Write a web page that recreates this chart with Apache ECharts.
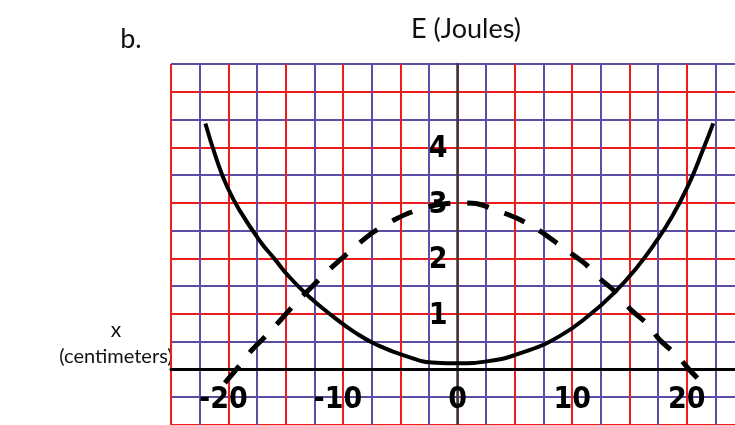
<!DOCTYPE html>
<html>
<head>
<meta charset="utf-8">
<title>E (Joules) vs x</title>
<script src="https://cdn.jsdelivr.net/npm/echarts@6/dist/echarts.min.js"></script>
<style>
  html, body { margin: 0; padding: 0; background: #fff; }
  #chart { width: 735px; height: 425px; }
</style>
</head>
<body>
<div id="chart"></div>
<script>
// solid curve (x in cm, E in J)
var solidX = [-22.0, -21.0, -20.1, -19.0, -17.2, -16.0, -14.7, -13.0, -10.9, -8.9, -7.1, -4.5, -1.9, 0.0, 2.7, 6.0, 8.9, 11.5, 13.8, 15.5, 17.1, 18.7, 20.2, 21.4, 22.3];
var solidE = [4.43, 3.77, 3.29, 2.86, 2.30, 2.00, 1.67, 1.32, 0.96, 0.66, 0.45, 0.24, 0.12, 0.11, 0.15, 0.33, 0.60, 0.98, 1.41, 1.80, 2.24, 2.75, 3.35, 3.95, 4.43];

// dashed curve
var dashX = [-20.3, -18.95, -17.9, -16.45, -15.4, -14.1, -12.8, -11.4, -10.1, -8.6, -7.3, -5.55, -3.95, -1.9, 0.0, 1.6, 3.3, 5.1, 6.85, 8.3, 9.7, 11.2, 12.5, 13.7, 15.1, 16.6, 17.6, 19.2, 20.2, 21.05];
var dashE = [-0.24, 0.09, 0.36, 0.66, 0.90, 1.20, 1.47, 1.76, 2.00, 2.27, 2.48, 2.69, 2.84, 2.96, 3.00, 2.99, 2.87, 2.73, 2.54, 2.33, 2.12, 1.89, 1.62, 1.41, 1.08, 0.81, 0.54, 0.24, 0.00, -0.18];

// tick labels written on the axes
var xTickLabels = [-20, -10, 0, 10, 20];
var yTickLabels = [1, 2, 3, 4];

function pairs(xs, ys) {
    var out = [];
    for (var i = 0; i < xs.length; i++) {
        out.push([xs[i], ys[i]]);
    }
    return out;
}

var gridColors = ['#ee1c1c', '#5a4ea6'];
var tickFont = {
    fontFamily: '"Liberation Sans Narrow", "DejaVu Sans Condensed", sans-serif',
    fontWeight: 'bold',
    fontSize: 30,
    color: '#000',
    opacity: 1,
    textBorderWidth: 0
};

// x tick labels hang under the x = 0 line, y tick labels sit left of the y axis
var xLabelData = xTickLabels.map(function(v) {
    return {
        value: [v, 0],
        label: { formatter: String(v), offset: [v < 0 ? -5 : 0, 0] }
    };
});
var yLabelData = yTickLabels.map(function(v) {
    return { value: [0, v], label: { formatter: String(v) } };
});

var chart = echarts.init(document.getElementById('chart'));

chart.setOption({
    animation: false,
    backgroundColor: '#fff',
    grid: { left: 171, right: 0, top: 64, bottom: 0, containLabel: false, outerBoundsMode: 'none' },
    xAxis: {
        type: 'value',
        min: -25,
        max: 24.2,
        interval: 2.5,
        axisLine: { onZero: true, lineStyle: { color: '#000', width: 3 } },
        axisTick: { show: false },
        axisLabel: { show: false },
        splitLine: {
            show: true,
            showMaxLine: false,
            lineStyle: { color: gridColors, width: 2 }
        }
    },
    yAxis: {
        type: 'value',
        min: -1,
        max: 5.5,
        interval: 0.5,
        axisLine: { onZero: true, lineStyle: { color: '#3a3a3a', width: 2.5 } },
        axisTick: { show: false },
        axisLabel: { show: false },
        splitLine: {
            show: true,
            lineStyle: { color: gridColors, width: 2 }
        }
    },
    series: [
        {
            type: 'line',
            data: pairs(solidX, solidE),
            smooth: true,
            showSymbol: false,
            lineStyle: { color: '#000', width: 4 },
            z: 5
        },
        {
            type: 'line',
            data: pairs(dashX, dashE),
            smooth: 0.3,
            showSymbol: false,
            lineStyle: { color: '#000', width: 5, type: [22, 17], cap: 'butt' },
            z: 6
        },
        {
            type: 'scatter',
            data: xLabelData,
            symbolSize: 0,
            silent: true,
            itemStyle: { color: '#000' },
            label: Object.assign({ show: true, position: 'bottom', distance: 16 }, tickFont),
            z: 4
        },
        {
            type: 'scatter',
            data: yLabelData,
            symbolSize: 0,
            silent: true,
            itemStyle: { color: '#000' },
            label: Object.assign({ show: true, position: 'left', distance: 10, offset: [0, 2] }, tickFont),
            z: 4
        }
    ],
    graphic: [
        {
            type: 'text', x: 466, y: 29,
            style: { text: 'E (Joules)', font: '27px Lato', fill: '#111',
                     align: 'center', verticalAlign: 'middle', textAlign: 'center', textVerticalAlign: 'middle' }
        },
        {
            type: 'text', x: 131, y: 39,
            style: { text: 'b.', font: '27px Lato', fill: '#111',
                     align: 'center', verticalAlign: 'middle', textAlign: 'center', textVerticalAlign: 'middle' }
        },
        {
            type: 'text', x: 116, y: 330,
            style: { text: 'x', font: '21px Lato', fill: '#111',
                     align: 'center', verticalAlign: 'middle', textAlign: 'center', textVerticalAlign: 'middle' }
        },
        {
            type: 'text', x: 116, y: 357,
            style: { text: '(centimeters)', font: '20px Lato', fill: '#111',
                     align: 'center', verticalAlign: 'middle', textAlign: 'center', textVerticalAlign: 'middle' }
        }
    ]
});
</script>
</body>
</html>
